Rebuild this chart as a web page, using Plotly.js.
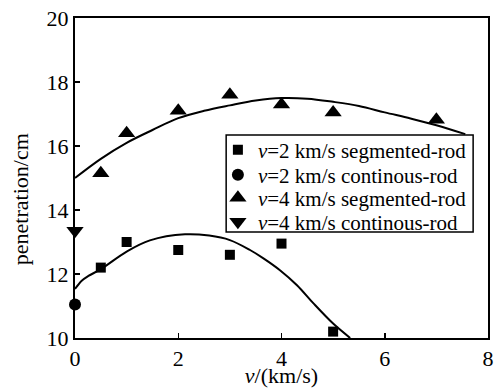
<!DOCTYPE html>
<html>
<head>
<meta charset="utf-8">
<script src="https://cdn.plot.ly/plotly-3.0.1.min.js"></script>
<style>html,body{margin:0;padding:0;background:#fff;}#chart{width:495px;height:388px;}</style>
</head>
<body>
<div id="chart"></div>
<script>
// Measured points
const seg2X = [0.5, 1, 2, 3, 4, 5];
const seg2Y = [12.2, 13.0, 12.75, 12.6, 12.95, 10.2];
const cont2X = [0];
const cont2Y = [11.05];
const seg4X = [0.5, 1, 2, 3, 4, 5, 7];
const seg4Y = [15.15, 16.4, 17.1, 17.6, 17.3, 17.05, 16.82];
const cont4X = [0];
const cont4Y = [13.35];

// Fitted curves
const fit4X = [0, 0.5, 1, 1.5, 2, 2.5, 3, 3.5, 4, 4.5, 5, 5.5, 6, 6.5, 7, 7.56];
const fit4Y = [15.0, 15.6, 16.1, 16.5, 16.87, 17.1, 17.27, 17.42, 17.5, 17.48, 17.38, 17.25, 17.05, 16.86, 16.65, 16.37];
const fit2X = [0, 0.13, 0.26, 0.5, 1.0, 1.45, 2.13, 2.6, 3.0, 3.39, 3.65, 3.97, 4.3, 4.62, 5.0, 5.33];
const fit2Y = [11.53, 11.79, 11.94, 12.15, 12.7, 13.05, 13.24, 13.2, 13.06, 12.75, 12.49, 12.12, 11.65, 11.08, 10.45, 10.0];

const xTicks = [0, 2, 4, 6, 8];
const yTicks = [10, 12, 14, 16, 18, 20];
const legendNames = ['<i>v</i>=2 km/s segmented-rod', '<i>v</i>=2 km/s continous-rod',
                     '<i>v</i>=4 km/s segmented-rod', '<i>v</i>=4 km/s continous-rod'];
const xTitle = '<i>v</i>/(km/s)';
const yTitle = 'penetration/cm';

const serif = '"Liberation Serif", "Times New Roman", Times, serif';
const traces = [
  {x: fit4X, y: fit4Y, mode: 'lines', line: {color: '#000', width: 2, shape: 'spline'}, showlegend: false, hoverinfo: 'skip'},
  {x: fit2X, y: fit2Y, mode: 'lines', line: {color: '#000', width: 2, shape: 'spline'}, showlegend: false, hoverinfo: 'skip'},
  {x: seg2X, y: seg2Y, mode: 'markers', name: legendNames[0], legend: 'legend', marker: {symbol: 'square', size: 10, color: '#000'}},
  {x: cont2X, y: cont2Y, mode: 'markers', name: legendNames[1], legend: 'legend2', marker: {symbol: 'circle', size: 12, color: '#000'}, cliponaxis: false},
  {x: seg4X, y: seg4Y, mode: 'markers', name: legendNames[2], legend: 'legend3', marker: {symbol: 'triangle-up', size: 15, color: '#000'}},
  {x: cont4X, y: cont4Y, mode: 'markers', name: legendNames[3], legend: 'legend4', marker: {symbol: 'triangle-down', size: 15, color: '#000'}, cliponaxis: false}
];

function leg(y) {
  return {x: 0.346, xanchor: 'left', y: y, yanchor: 'middle',
    bgcolor: 'rgba(0,0,0,0)', borderwidth: 0,
    font: {family: serif, size: 21, color: '#000'}, itemwidth: 30};
}

const layout = {
  width: 495, height: 388,
  margin: {l: 75, r: 7, t: 18, b: 50},
  paper_bgcolor: '#fff', plot_bgcolor: '#fff',
  font: {family: serif, size: 22, color: '#000'},
  showlegend: true,
  legend: leg(0.5875), legend2: leg(0.509), legend3: leg(0.4375), legend4: leg(0.3625),
  shapes: [{type: 'rect', xref: 'paper', yref: 'paper', x0: 0.366, x1: 0.964, y0: 0.331, y1: 0.634,
            fillcolor: '#fff', line: {color: '#000', width: 1.5}, layer: 'above'}],
  annotations: [{text: yTitle, xref: 'paper', yref: 'paper', x: -0.133, y: 0.434,
                 xanchor: 'center', yanchor: 'middle', textangle: -90, showarrow: false,
                 font: {family: serif, size: 22, color: '#000'}}],
  xaxis: {
    range: [0, 8], tickvals: xTicks, ticktext: xTicks.map(String),
    ticks: 'inside', ticklen: 5, tickwidth: 1.5, tickcolor: '#000',
    showline: true, linecolor: '#000', linewidth: 2, mirror: true,
    showgrid: false, zeroline: false,
    tickfont: {family: serif, size: 22},
    title: {text: xTitle, font: {family: serif, size: 22}, standoff: 5}
  },
  yaxis: {
    range: [10, 20], tickvals: yTicks, ticktext: yTicks.map(String),
    ticks: 'inside', ticklen: 5, tickwidth: 1.5, tickcolor: '#000',
    showline: true, linecolor: '#000', linewidth: 2, mirror: true,
    showgrid: false, zeroline: false,
    tickfont: {family: serif, size: 22}
  }
};

Plotly.newPlot('chart', traces, layout, {displayModeBar: false, staticPlot: true});
</script>
</body>
</html>
